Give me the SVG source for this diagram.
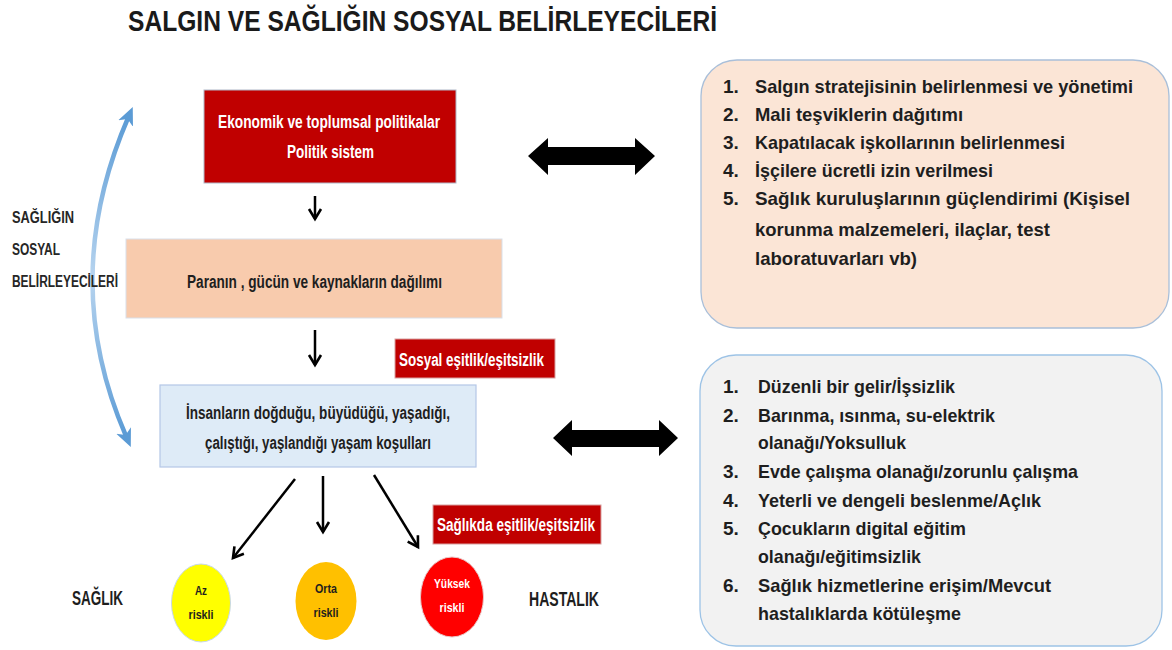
<svg xmlns="http://www.w3.org/2000/svg" width="1172" height="650" viewBox="0 0 1172 650">
<defs>
<style>
text{font-family:"Liberation Sans Narrow","Liberation Sans",Arial,sans-serif;font-weight:bold;}
.dk{fill:#1e1e1e;}
.wh{fill:#ffffff;}
.item{font-size:19px;fill:#1e1e1e;}
.box{font-size:17.5px;}
.ln{stroke:#000;stroke-width:2.5;fill:none;marker-end:url(#ah);}
.sm{font-size:12.5px;text-anchor:middle;}
</style>
<marker id="ah" markerUnits="userSpaceOnUse" markerWidth="16" markerHeight="16" refX="12" refY="7" orient="auto" viewBox="0 0 16 14">
<path d="M2,1 L12,7 L2,13" fill="none" stroke="#000" stroke-width="2.6"/>
</marker>
<marker id="bh" markerUnits="userSpaceOnUse" markerWidth="20" markerHeight="20" refX="6" refY="9" orient="auto-start-reverse" viewBox="0 0 20 18">
<path d="M0,1 L18,9 L0,17 L5,9 Z" fill="#5b9bd5"/>
</marker>
<linearGradient id="bg" x1="0" y1="0" x2="0" y2="1">
<stop offset="0" stop-color="#5b9bd5"/>
<stop offset="0.5" stop-color="#b7d4ef"/>
<stop offset="1" stop-color="#5b9bd5"/>
</linearGradient>
</defs>
<rect width="1172" height="650" fill="#ffffff"/>

<g id="connectors">
<path d="M128,118 Q58,280 126,436" fill="none" stroke="url(#bg)" stroke-width="4.5" marker-start="url(#bh)" marker-end="url(#bh)"/>
<line class="ln" x1="315" y1="196" x2="315" y2="219"/>
<line class="ln" x1="315" y1="330" x2="315" y2="365"/>
<line class="ln" x1="295" y1="479" x2="233" y2="558"/>
<line class="ln" x1="323" y1="476" x2="323" y2="532"/>
<line class="ln" x1="374" y1="475" x2="418" y2="547"/>
<polygon points="528,156 548,138 548,147 635,147 635,138 655,156 635,175 635,165 548,165 548,175" fill="#000"/>
<polygon points="553,438 572,420 572,430 659,430 659,420 678,438 659,456 659,447 572,447 572,456" fill="#000"/>
</g>

<text id="title" x="128" y="31" font-size="29" fill="#1a1a1a" textLength="589" lengthAdjust="spacingAndGlyphs">SALGIN VE SAĞLIĞIN SOSYAL BELİRLEYECİLERİ</text>

<g id="side-label">
<text x="12" y="223" font-size="16" fill="#262626" textLength="62" lengthAdjust="spacingAndGlyphs">SAĞLIĞIN</text>
<text x="12" y="255" font-size="16" fill="#262626" textLength="48" lengthAdjust="spacingAndGlyphs">SOSYAL</text>
<text x="12" y="287" font-size="16" fill="#262626" textLength="106" lengthAdjust="spacingAndGlyphs">BELİRLEYECİLERİ</text>
</g>

<g id="policy">
<rect x="204" y="90" width="252" height="93" fill="#c00000" stroke="#b0b8c8" stroke-width="1"/>
<text class="box wh" x="218" y="128" textLength="222" lengthAdjust="spacingAndGlyphs">Ekonomik ve toplumsal politikalar</text>
<text class="box wh" x="287" y="158" textLength="87" lengthAdjust="spacingAndGlyphs">Politik sistem</text>
</g>

<g id="distribution">
<rect x="126" y="239" width="376" height="79" fill="#f8cbad" stroke="#d9dfe9" stroke-width="1"/>
<text class="box dk" x="187" y="288" textLength="255" lengthAdjust="spacingAndGlyphs">Paranın , gücün ve kaynakların dağılımı</text>
</g>

<g id="social-equity">
<rect x="395" y="339" width="160" height="39" fill="#c00000" stroke="#d8a0a0" stroke-width="1"/>
<text class="box wh" x="399" y="366" textLength="145" lengthAdjust="spacingAndGlyphs">Sosyal eşitlik/eşitsizlik</text>
</g>

<g id="living-conditions">
<rect x="160" y="385" width="316" height="82" fill="#deebf7" stroke="#b4c7e7" stroke-width="1.2"/>
<text class="box dk" x="186" y="419" textLength="264" lengthAdjust="spacingAndGlyphs">İnsanların doğduğu, büyüdüğü, yaşadığı,</text>
<text class="box dk" x="205" y="449" textLength="226" lengthAdjust="spacingAndGlyphs">çalıştığı, yaşlandığı yaşam koşulları</text>
</g>

<g id="health-equity">
<rect x="433" y="505" width="168" height="39" fill="#c00000" stroke="#d8a0a0" stroke-width="1"/>
<text class="box wh" x="437" y="531" textLength="158" lengthAdjust="spacingAndGlyphs">Sağlıkda eşitlik/eşitsizlik</text>
</g>

<g id="low-risk">
<ellipse cx="201" cy="603" rx="29.5" ry="39" fill="#ffff00" stroke="#c8d8e8" stroke-width="1"/>
<text class="sm dk" x="201" y="595" textLength="12" lengthAdjust="spacingAndGlyphs">Az</text>
<text class="sm dk" x="201" y="619" textLength="25" lengthAdjust="spacingAndGlyphs">riskli</text>
</g>
<g id="mid-risk">
<ellipse cx="326" cy="601" rx="30.5" ry="39" fill="#ffc000"/>
<text class="sm dk" x="326" y="593" textLength="22" lengthAdjust="spacingAndGlyphs">Orta</text>
<text class="sm dk" x="326" y="617" textLength="25" lengthAdjust="spacingAndGlyphs">riskli</text>
</g>
<g id="high-risk">
<ellipse cx="452" cy="597" rx="31.5" ry="40" fill="#ff0000" stroke="#e8c8c8" stroke-width="1"/>
<text class="sm wh" x="452" y="588" textLength="36" lengthAdjust="spacingAndGlyphs">Yüksek</text>
<text class="sm wh" x="452" y="612" textLength="25" lengthAdjust="spacingAndGlyphs">riskli</text>
</g>

<text id="health" x="72" y="605" font-size="21" fill="#1e1e1e" textLength="51" lengthAdjust="spacingAndGlyphs">SAĞLIK</text>
<text id="disease" x="529" y="606" font-size="21" fill="#1e1e1e" textLength="70" lengthAdjust="spacingAndGlyphs">HASTALIK</text>

<g id="policy-actions">
<rect x="701" y="60" width="468" height="268" rx="36" ry="36" fill="#fbe5d6" stroke="#a9bfd9" stroke-width="1.3"/>
<text class="item" x="723" y="93">1.</text>
<text class="item" x="755" y="93" textLength="378" lengthAdjust="spacingAndGlyphs">Salgın stratejisinin  belirlenmesi ve yönetimi</text>
<text class="item" x="723" y="121">2.</text>
<text class="item" x="755" y="121" textLength="208" lengthAdjust="spacingAndGlyphs">Mali teşviklerin dağıtımı</text>
<text class="item" x="723" y="149">3.</text>
<text class="item" x="755" y="149" textLength="310" lengthAdjust="spacingAndGlyphs">Kapatılacak işkollarının  belirlenmesi</text>
<text class="item" x="723" y="177">4.</text>
<text class="item" x="755" y="177" textLength="238" lengthAdjust="spacingAndGlyphs">İşçilere ücretli izin verilmesi</text>
<text class="item" x="723" y="205">5.</text>
<text class="item" x="755" y="205" textLength="375" lengthAdjust="spacingAndGlyphs">Sağlık kuruluşlarının  güçlendirimi  (Kişisel</text>
<text class="item" x="755" y="236" textLength="295" lengthAdjust="spacingAndGlyphs">korunma  malzemeleri, ilaçlar, test</text>
<text class="item" x="755" y="265" textLength="162" lengthAdjust="spacingAndGlyphs">laboratuvarları  vb)</text>
</g>

<g id="condition-list">
<rect x="700" y="355" width="462" height="291" rx="36" ry="36" fill="#f2f2f2" stroke="#9dc3e6" stroke-width="1.3"/>
<text class="item" x="723" y="393">1.</text>
<text class="item" x="758" y="393" textLength="197" lengthAdjust="spacingAndGlyphs">Düzenli bir gelir/İşsizlik</text>
<text class="item" x="723" y="422">2.</text>
<text class="item" x="758" y="422" textLength="237" lengthAdjust="spacingAndGlyphs">Barınma, ısınma, su-elektrik</text>
<text class="item" x="758" y="449" textLength="148" lengthAdjust="spacingAndGlyphs">olanağı/Yoksulluk</text>
<text class="item" x="723" y="478">3.</text>
<text class="item" x="758" y="478" textLength="320" lengthAdjust="spacingAndGlyphs">Evde çalışma olanağı/zorunlu  çalışma</text>
<text class="item" x="723" y="507">4.</text>
<text class="item" x="758" y="507" textLength="283" lengthAdjust="spacingAndGlyphs">Yeterli ve dengeli beslenme/Açlık</text>
<text class="item" x="723" y="535">5.</text>
<text class="item" x="758" y="535" textLength="208" lengthAdjust="spacingAndGlyphs">Çocukların digital eğitim</text>
<text class="item" x="758" y="563" textLength="163" lengthAdjust="spacingAndGlyphs">olanağı/eğitimsizlik</text>
<text class="item" x="723" y="592">6.</text>
<text class="item" x="758" y="592" textLength="293" lengthAdjust="spacingAndGlyphs">Sağlık hizmetlerine erişim/Mevcut</text>
<text class="item" x="758" y="620" textLength="203" lengthAdjust="spacingAndGlyphs">hastalıklarda  kötüleşme</text>
</g>
</svg>
